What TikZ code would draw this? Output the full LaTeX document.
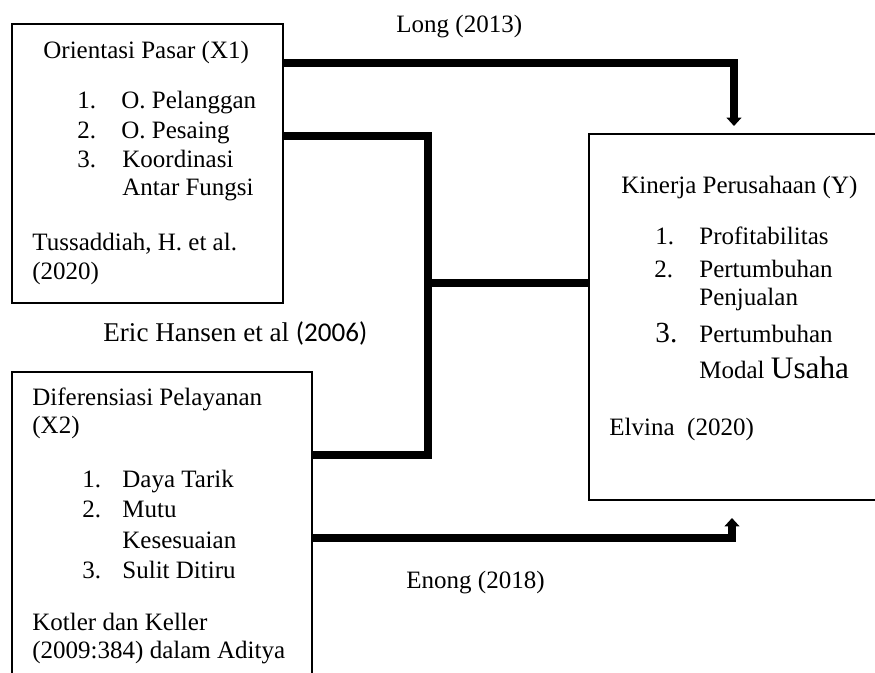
\documentclass[tikz,border=0pt]{standalone}
\usepackage{fontspec}
\setmainfont{Liberation Serif}
\newfontfamily\calibri{Carlito}
\usetikzlibrary{arrows.meta,positioning,fit,calc}

\begin{document}
\begin{tikzpicture}[
    x=0.48pt, y=-0.48pt,
    font=\fontsize{12pt}{14pt}\selectfont,
    box/.style={draw, line width=1pt, rectangle, inner sep=0pt, outer sep=0pt},
    txt/.style={anchor=base west, inner sep=0pt},
    link/.style={line width=4pt},
    tip/.style={-{Triangle[width=7pt,length=4pt]}}
  ]
  \useasboundingbox (0,0) rectangle (875,673);
  \clip (0,0) rectangle (875,673);

  % kotak variabel
  \node[box, fit={(12,24) (283,303)}] (x1) {};
  \node[box, fit={(12,372) (312,700)}] (x2) {};
  \node[box, fit={(589,134) (885,500)}] (yk) {};

  % Orientasi Pasar (X1)
  \node[txt] (x1judul) at (43,58) {Orientasi Pasar (X1)};
  \node[txt] (x1n1) at (77,108) {1.};
  \node[txt] (x1i1) at (121,108) {O. Pelanggan};
  \node[txt] (x1n2) at (77,138) {2.};
  \node[txt] (x1i2) at (121,138) {O. Pesaing};
  \node[txt] (x1n3) at (77,167) {3.};
  \node[txt] (x1i3) at (122,167) {Koordinasi};
  \node[txt] (x1i3b) at (122,195) {Antar Fungsi};
  \node[txt] (x1ref) at (32,250) {Tussaddiah, H. et al.};
  \node[txt] (x1thn) at (32,279) {(2020)};

  % Diferensiasi Pelayanan (X2)
  \node[txt] (x2judul) at (32,405) {Diferensiasi Pelayanan};
  \node[txt] (x2judulb) at (32,433) {(X2)};
  \node[txt] (x2n1) at (82,487) {1.};
  \node[txt] (x2i1) at (122,487) {Daya Tarik};
  \node[txt] (x2n2) at (82,517) {2.};
  \node[txt] (x2i2) at (122,517) {Mutu};
  \node[txt] (x2i2b) at (122,548) {Kesesuaian};
  \node[txt] (x2n3) at (82,578) {3.};
  \node[txt] (x2i3) at (122,578) {Sulit Ditiru};
  \node[txt] (x2ref) at (32,630) {Kotler dan Keller};
  \node[txt] (x2thn) at (32,658) {(2009:384) dalam Aditya};

  % Kinerja Perusahaan (Y)
  \node[txt] (yjudul) at (621,193) {Kinerja Perusahaan (Y)};
  \node[txt] (yn1) at (655,244) {1.};
  \node[txt] (yi1) at (699,244) {Profitabilitas};
  \node[txt] (yn2) at (654,277) {2.};
  \node[txt] (yi2) at (699,277) {Pertumbuhan};
  \node[txt] (yi2b) at (699,305) {Penjualan};
  \node[txt, font=\fontsize{14pt}{16pt}\selectfont] (yn3) at (655,342) {3.};
  \node[txt] (yi3) at (699,342) {Pertumbuhan};
  \node[txt] (yi3b) at (699,378) {Modal {\fontsize{15pt}{17pt}\selectfont Usaha}};
  \node[txt] (yref) at (609,435) {Elvina\ \ (2020)};

  % label panah
  \node[txt] (long) at (396,32) {Long (2013)};
  \node[txt, font=\fontsize{13pt}{15pt}\selectfont] (eric) at (103,341) {Eric Hansen et al {\calibri(2006)}};
  \node[txt] (enong) at (406,588) {Enong (2018)};

  % garis penghubung
  \coordinate (hub) at (428,283);
  \draw[link, tip] ($(x1.north east)+(0,39)$) -| ($(yk.north)+(-3,-8)$);
  \draw[link] ($(x1.north east)+(0,112)$) -| (hub) |- ($(x2.north east)+(0,83)$);
  \draw[link] (hub) -- (hub -| yk.west);
  \draw[link, tip] ($(x2.north east)+(0,166)$) -| ($(yk.south)+(-5,18)$);
\end{tikzpicture}
\end{document}
